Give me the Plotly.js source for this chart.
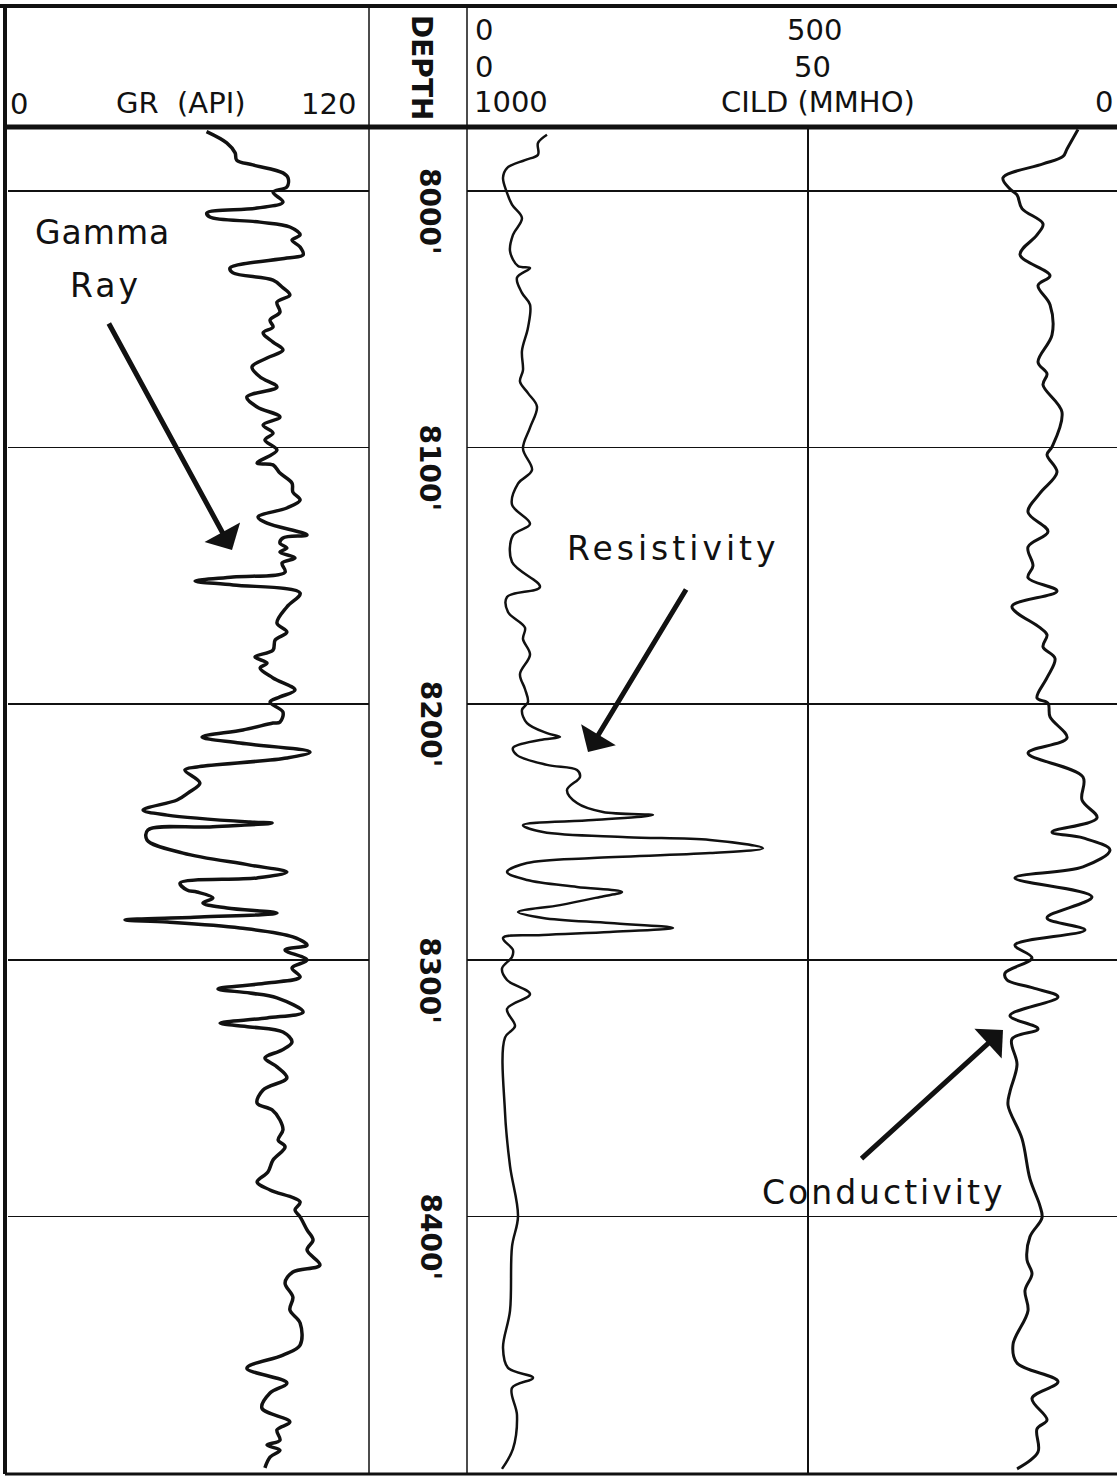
<!DOCTYPE html>
<html>
<head>
<meta charset="utf-8">
<script src="https://cdn.plot.ly/plotly-3.0.1.min.js"></script>
<style>
html,body{margin:0;padding:0;background:#fff;}
#chart{width:1117px;height:1476px;}
</style>
</head>
<body>
<div id="chart"></div>
<script>
// Gamma ray (API), depth in ft
const grDepth = [7976.8,7981.2,7985.1,7987.9,7989.8,7992.9,7994.9,7998.4,8000.4,8004.3,
8006.6,8008.5,8010.1,8012.1,8014.0,8017.1,8019.1,8021.8,8024.9,8026.1,
8030.0,8031.9,8034.7,8037.4,8040.5,8043.3,8047.2,8050.3,8053.0,8055.3,
8058.9,8062.0,8065.1,8068.6,8072.5,8076.4,8080.3,8084.2,8088.1,8091.2,
8094.4,8097.1,8101.0,8106.1,8106.8,8110.0,8113.9,8117.4,8120.5,8123.6,
8127.1,8129.5,8134.1,8135.3,8137.3,8139.2,8140.8,8143.1,8145.1,8148.6,
8150.5,8152.1,8153.6,8156.8,8162.2,8168.5,8172.0,8175.1,8179.0,8181.7,
8184.1,8186.0,8189.9,8194.6,8197.3,8199.3,8203.2,8207.1,8207.5,8210.2,
8212.9,8215.3,8218.8,8221.1,8224.6,8225.8,8230.9,8234.8,8237.5,8241.4,
8243.4,8246.1,8246.5,8248.0,8249.2,8253.1,8258.2,8262.9,8265.6,8267.9,
8269.9,8272.6,8273.4,8275.7,8277.7,8279.6,8281.6,8283.1,8284.3,8285.1,
8287.4,8290.9,8294.1,8296.0,8299.9,8303.0,8306.5,8308.9,8311.2,8312.8,
8314.7,8320.2,8322.5,8324.5,8326.0,8328.0,8331.9,8335.0,8338.1,8341.6,
8345.9,8350.6,8355.7,8358.4,8362.3,8366.2,8370.1,8372.8,8377.9,8382.6,
8386.5,8389.6,8394.3,8397.4,8400.1,8405.2,8409.1,8413.0,8418.9,8421.6,
8425.9,8431.4,8436.4,8441.5,8450.1,8454.0,8459.1,8464.9,8468.8,8474.7,
8480.1,8483.2,8487.2,8489.1,8491.1,8493.8,8498.0];
const grValues = [66.0,72.7,75.5,76.0,81.4,91.4,93.1,92.7,88.1,91.4,
82.8,66.1,67.1,83.8,93.7,97.1,94.4,97.1,98.1,92.7,
73.8,74.8,88.1,91.1,93.7,89.4,90.4,87.1,88.1,84.8,
88.1,91.4,86.1,81.1,83.8,89.4,79.4,82.8,90.4,84.8,
88.1,85.4,89.4,82.8,88.1,90.4,94.4,94.7,97.1,92.7,
83.1,86.1,99.4,91.4,90.4,92.7,90.4,95.4,91.1,92.1,
74.8,62.2,74.8,97.1,92.7,89.4,92.7,88.8,88.1,82.1,
86.1,83.8,88.1,95.4,90.4,87.1,91.4,90.4,88.1,78.1,
64.5,77.1,100.4,92.7,62.8,58.8,63.8,59.8,56.2,44.9,
52.9,80.4,87.8,67.1,46.5,46.2,58.2,80.4,92.7,82.8,
57.2,59.5,62.8,68.1,64.8,72.8,89.4,63.8,38.9,52.9,
77.1,94.7,99.4,92.1,99.4,94.4,97.1,86.1,69.8,80.4,
89.4,98.1,86.1,70.5,80.4,91.4,94.4,91.1,85.4,89.4,
92.7,84.8,82.8,87.8,90.4,91.4,89.8,92.1,88.1,86.4,
82.8,87.1,97.1,95.4,97.1,99.4,101.4,99.4,103.7,94.7,
92.1,94.7,93.7,97.1,97.1,91.4,79.4,92.7,87.1,84.4,
93.7,89.4,90.4,86.1,90.4,87.1,85.4];

// Resistivity (0 at left of track, 500 at track centre line)
const resDepth = [7978.0,7981.2,7985.8,7987.9,7991.0,7994.8,8000.7,8005.3,8010.5,8017.1,
8023.4,8029.2,8030.0,8033.8,8039.7,8044.3,8053.3,8062.3,8069.8,8074.3,
8078.8,8084.0,8092.3,8100.5,8108.8,8114.1,8122.3,8129.8,8134.3,8144.7,
8154.4,8158.3,8164.2,8170.3,8174.7,8180.8,8188.4,8194.2,8199.3,8202.4,
8207.5,8211.4,8212.9,8214.1,8217.2,8220.0,8223.8,8225.8,8228.5,8233.6,
8238.7,8242.2,8243.4,8245.3,8247.3,8250.0,8252.0,8253.1,8256.3,8258.2,
8260.1,8262.1,8265.6,8268.7,8271.4,8273.4,8275.3,8278.5,8281.2,8283.5,
8285.5,8287.4,8289.0,8290.2,8291.3,8296.0,8298.7,8303.2,8307.7,8313.2,
8319.0,8325.7,8330.2,8359.2,8380.3,8399.8,8411.7,8436.7,8451.2,8459.0,
8462.9,8466.8,8477.4,8490.6,8498.4];
const resValues = [117.3,104.1,104.1,85.0,58.7,52.8,58.7,66.0,80.6,67.4,
63.1,74.8,92.4,73.3,80.6,92.4,89.4,80.6,82.1,77.7,
89.4,102.6,92.4,82.1,95.3,74.8,66.0,92.4,67.4,66.0,
107.0,58.7,60.1,85.0,82.1,92.4,77.7,85.0,89.4,80.6,
88.0,117.3,136.4,107.0,67.4,73.3,117.3,161.3,165.7,146.6,
161.3,199.4,272.7,184.8,82.1,111.4,234.6,356.3,434.0,356.3,
184.8,88.0,58.7,88.0,161.3,227.3,195.0,136.4,74.8,111.4,
209.7,302.1,209.7,111.4,52.8,67.4,66.0,51.3,58.7,92.4,
58.7,70.4,55.7,55.7,63.1,74.8,66.0,63.1,52.8,60.1,
96.8,66.0,73.3,67.4,51.3];

// Conductivity CILD (mmho), scale 1000 (left) -> 0 (right)
const condDepth = [7976.0,7983.6,7986.5,7989.4,7994.8,7999.2,8001.5,8006.8,8012.8,8017.1,
8024.8,8033.0,8036.8,8044.3,8056.1,8066.7,8071.3,8075.6,8086.2,8099.8,
8102.8,8109.6,8117.8,8125.2,8132.8,8138.8,8146.2,8150.8,8156.0,8162.0,
8170.3,8173.1,8177.8,8182.3,8189.8,8197.7,8199.7,8205.1,8213.3,8219.2,
8228.5,8237.5,8244.5,8250.0,8252.3,8257.0,8263.6,8267.9,8275.3,8283.5,
8288.2,8294.1,8299.1,8305.0,8307.7,8310.8,8314.3,8321.6,8326.8,8330.7,
8340.7,8351.2,8356.5,8369.6,8385.3,8395.9,8400.5,8407.8,8416.9,8422.3,
8428.8,8436.7,8449.9,8457.1,8464.4,8470.9,8479.3,8482.8,8491.8,8498.4];
const condValues = [104.1,120.2,126.1,155.4,214.1,203.8,193.5,186.2,155.4,164.2,
189.1,145.1,162.7,145.1,142.2,162.7,149.5,155.4,127.6,142.2,
149.5,134.9,159.8,177.4,148.1,177.4,170.1,177.4,134.9,200.9,
159.8,149.5,155.4,137.8,149.5,164.2,148.1,145.1,120.2,177.4,
96.8,98.2,76.2,142.2,96.8,57.2,96.8,196.5,83.6,149.5,
93.8,196.5,171.5,211.1,208.2,170.1,133.4,203.8,162.7,200.9,
193.5,203.8,206.7,186.2,174.5,159.8,156.9,174.5,178.9,171.5,
181.8,177.4,199.4,193.5,133.4,171.5,149.5,164.2,162.7,193.5];

const depthTicks = [8000, 8100, 8200, 8300, 8400];
const depthLabels = ["8000'", "8100'", "8200'", "8300'", "8400'"];
const grScale = [0, 120];
const resScaleRow1 = ["0", "500"];
const resScaleRow2 = ["0", "50"];
const cildScale = ["1000", "0"];

// ---------- LAYOUT ----------
const W = 1117, H = 1476;
const px = v => v / W;
const py = v => 1 - v / H;
const INK = '#111';
const FONT = 'DejaVu Sans';

function lab(text, x, y, size, extra) {
  return Object.assign({
    text: text, xref: 'paper', yref: 'paper', x: px(x), y: py(y),
    xanchor: 'center', yanchor: 'middle', showarrow: false,
    font: {family: FONT, size: size, color: INK}
  }, extra || {});
}
function spaced(t, s) { return '<span style="letter-spacing:' + s + 'px">' + t + '</span>'; }

const annotations = [
  lab(String(grScale[0]), 19, 104, 29),
  lab('GR\u00a0\u00a0(API)', 181, 103, 29),
  lab(String(grScale[1]), 328, 104, 29),
  lab('<b>DEPTH</b>', 421, 67, 28, {textangle: 90}),
  lab(resScaleRow1[0], 484, 30, 29),
  lab(resScaleRow1[1], 814, 30, 29),
  lab(resScaleRow2[0], 484, 67, 29),
  lab(resScaleRow2[1], 812, 67, 29),
  lab(cildScale[0], 511, 102, 29),
  lab('CILD (MMHO)', 818, 102, 29),
  lab(cildScale[1], 1104, 102, 29),
  lab(spaced('Gamma', 1), 102, 233, 33),
  lab(spaced('Ray', 3), 105, 285, 33),
  lab(spaced('Resistivity', 4), 673, 548, 33),
  lab(spaced('Conductivity', 3), 883, 1192, 33),
  {text: '', xref: 'paper', yref: 'paper', x: px(232), y: py(550), ax: -124, ay: -228,
   showarrow: true, arrowhead: 1, arrowwidth: 5, arrowsize: 1.35, arrowcolor: INK},
  {text: '', xref: 'paper', yref: 'paper', x: px(588), y: py(752), ax: 99, ay: -164,
   showarrow: true, arrowhead: 1, arrowwidth: 5, arrowsize: 1.35, arrowcolor: INK},
  {text: '', xref: 'paper', yref: 'paper', x: px(1003), y: py(1030), ax: -143, ay: 130,
   showarrow: true, arrowhead: 1, arrowwidth: 5, arrowsize: 1.35, arrowcolor: INK}
];
depthTicks.forEach((d, i) => {
  annotations.push({text: '<b>' + depthLabels[i] + '</b>', xref: 'paper', yref: 'y',
    x: px(430), y: d, yshift: -20, xanchor: 'center', yanchor: 'middle',
    textangle: 90, showarrow: false, font: {family: FONT, size: 28, color: INK}});
});

function seg(x0, y0, x1, y1, w) {
  return {type: 'line', xref: 'paper', yref: 'paper', x0: px(x0), y0: py(y0), x1: px(x1), y1: py(y1),
          line: {color: INK, width: w}, layer: 'above'};
}
const shapes = [
  seg(0, 6, 1117, 6, 4),
  seg(5, 6, 5, 1474, 4),
  seg(5, 127, 1117, 127, 5),
  seg(369, 6, 369, 1474, 1.5),
  seg(467, 6, 467, 1474, 1.5),
  seg(5, 1474, 1117, 1474, 3)
];

const traces = [
  {x: grValues, y: grDepth, xaxis: 'x', yaxis: 'y', mode: 'lines', name: 'Gamma Ray',
   line: {color: INK, width: 3.5, shape: 'spline', smoothing: 1}},
  {x: resValues, y: resDepth, xaxis: 'x2', yaxis: 'y', mode: 'lines', name: 'Resistivity',
   line: {color: INK, width: 2.5, shape: 'spline', smoothing: 1}},
  {x: condValues, y: condDepth, xaxis: 'x3', yaxis: 'y', mode: 'lines', name: 'Conductivity',
   line: {color: INK, width: 3, shape: 'spline', smoothing: 1}}
];

const layout = {
  width: W, height: H,
  margin: {l: 0, r: 0, t: 0, b: 0},
  paper_bgcolor: '#fff', plot_bgcolor: 'rgba(0,0,0,0)',
  showlegend: false,
  font: {family: FONT, color: INK},
  xaxis: {domain: [px(8), px(369)], range: grScale, anchor: 'y', showgrid: false,
          showticklabels: false, zeroline: false, ticks: '', showline: false},
  xaxis2: {domain: [px(467), 1], range: [0, 953.1], anchor: 'y', tickvals: [500],
           showgrid: true, gridcolor: INK, gridwidth: 1.5,
           showticklabels: false, zeroline: false, ticks: '', showline: false},
  xaxis3: {overlaying: 'x2', range: [1000, 46.9], anchor: 'y', showgrid: false,
           showticklabels: false, zeroline: false, ticks: '', showline: false},
  yaxis: {domain: [1 - 1473 / H, 1 - 127 / H], range: [8500, 7975], anchor: 'x',
          tickvals: depthTicks, showgrid: true, gridcolor: INK, gridwidth: 1.5,
          showticklabels: false, zeroline: false, ticks: '', showline: false},
  annotations: annotations,
  shapes: shapes
};

Plotly.newPlot('chart', traces, layout, {staticPlot: true, displayModeBar: false});
</script>
</body>
</html>
